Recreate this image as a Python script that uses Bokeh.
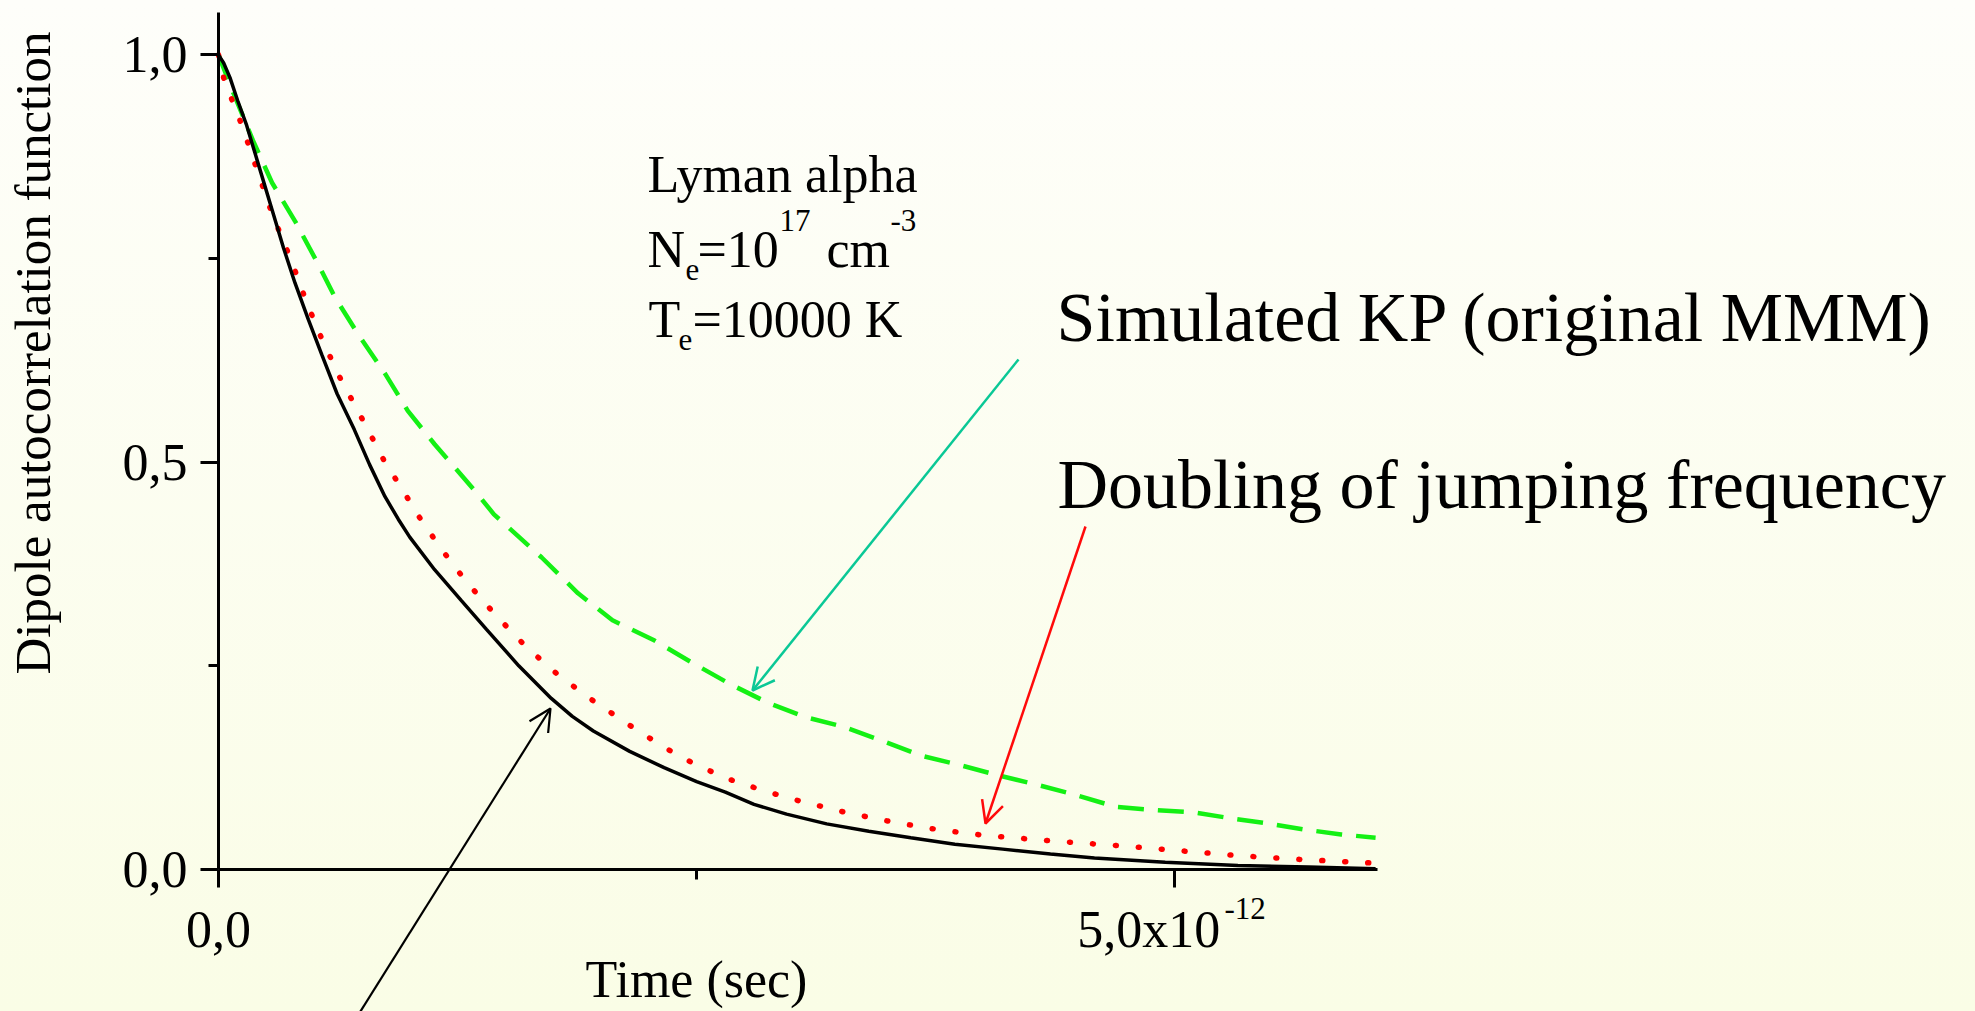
import math
from bokeh.plotting import figure
from bokeh.models import Range1d, FixedTicker, Label, Arrow, OpenHead
from bokeh.embed import file_html
from bokeh.resources import INLINE

# ---------------- data (time in picoseconds) ----------------
black_t = [0, 0.027, 0.06, 0.10, 0.145, 0.19, 0.235, 0.28, 0.34, 0.40, 0.47, 0.54, 0.62,
           0.71, 0.79, 0.87, 0.94, 1.0, 1.13, 1.27, 1.40, 1.57, 1.74, 1.85, 1.96, 2.15,
           2.33, 2.50, 2.65, 2.80, 2.97, 3.18, 3.40, 3.62, 3.85, 4.10, 4.35, 4.58, 4.95,
           5.33, 5.70, 6.05]
black_y = [1.0, 0.99, 0.972, 0.944, 0.915, 0.88, 0.845, 0.81, 0.763, 0.72, 0.675, 0.632,
           0.584, 0.54, 0.497, 0.458, 0.43, 0.408, 0.368, 0.33, 0.295, 0.25, 0.21, 0.188,
           0.17, 0.145, 0.125, 0.108, 0.095, 0.08, 0.068, 0.056, 0.047, 0.039, 0.031,
           0.025, 0.019, 0.014, 0.009, 0.005, 0.003, 0.001]

red_t = [0, 0.027, 0.07, 0.12, 0.20, 0.28, 0.38, 0.45, 0.52, 0.63, 0.77, 0.87, 0.96, 1.04,
         1.16, 1.29, 1.45, 1.61, 1.78, 1.96, 2.15, 2.33, 2.50, 2.68, 2.86, 3.04, 3.28,
         3.53, 3.76, 4.0, 4.36, 4.72, 5.03, 5.33, 5.68, 6.03]
red_y = [1.0, 0.972, 0.945, 0.915, 0.86, 0.805, 0.748, 0.703, 0.662, 0.606, 0.545, 0.50,
         0.467, 0.436, 0.395, 0.355, 0.312, 0.273, 0.238, 0.207, 0.177, 0.150, 0.128,
         0.110, 0.096, 0.084, 0.070, 0.058, 0.049, 0.042, 0.035, 0.029, 0.023, 0.017,
         0.012, 0.008]

green_t = [0, 0.073, 0.18, 0.28, 0.40, 0.51, 0.61, 0.73, 0.87, 0.99, 1.13, 1.34, 1.44, 1.69,
           1.88, 2.06, 2.28, 2.49, 2.68, 2.87, 3.07, 3.27, 3.47, 3.67, 3.88, 4.07, 4.28,
           4.49, 4.69, 4.89, 5.10, 5.29, 5.50, 5.68, 5.87, 6.05]
green_y = [1.0, 0.956, 0.895, 0.843, 0.796, 0.748, 0.702, 0.657, 0.609, 0.563, 0.522, 0.465,
           0.436, 0.383, 0.339, 0.306, 0.281, 0.252, 0.227, 0.205, 0.187, 0.175, 0.158,
           0.14, 0.128, 0.116, 0.104, 0.091, 0.077, 0.073, 0.070, 0.063, 0.056, 0.049,
           0.043, 0.039]

x_ticks = [0, 5]
x_minor = [2.5]
x_tick_labels = ["0,0", "5,0x10"]
x_tick_exponent = "-12"
y_ticks = [0, 0.5, 1.0]
y_minor = [0.25, 0.75]
y_tick_labels = ["0,0", "0,5", "1,0"]

# ---------------- layout ----------------
W, H = 1975, 1011
X_END, Y_END = 6.06, 1.052
# data box (axes) in canvas pixel coords
FX0, FX1, FY0, FY1 = 218, 1377, 12, 869
SX = (FX1 - FX0) / X_END
SY = (FY1 - FY0) / Y_END
DY = -23  # label baseline correction

FONT = "Liberation Serif"


def pos(fx, fy):
    """canvas-pixel position -> data coordinates (for annotations)."""
    return ((fx - FX0) / SX, (FY1 - fy) / SY)


p = figure(width=W, height=H, output_backend="svg", toolbar_location=None,
           x_range=Range1d(-FX0 / SX, (W - FX0) / SX),
           y_range=Range1d(-(H - FY1) / SY, FY1 / SY),
           min_border=0, min_border_left=0, min_border_right=0,
           min_border_top=0, min_border_bottom=0)

p.styles = {"background": "linear-gradient(to bottom, #FEFEFA, #FAFDE6)"}
p.border_fill_alpha = 0
p.background_fill_alpha = 0
p.outline_line_color = None
p.xgrid.visible = False
p.ygrid.visible = False

for ax in (p.xaxis[0], p.yaxis[0]):
    ax.fixed_location = 0
    ax.axis_line_width = 3
    ax.axis_line_color = "black"
    ax.major_tick_line_width = 3
    ax.minor_tick_line_width = 3
    ax.major_tick_out = 18
    ax.major_tick_in = 0
    ax.minor_tick_out = 10
    ax.minor_tick_in = 0
    ax.major_label_text_font = FONT
    ax.major_label_text_font_size = "52px"
    ax.major_label_text_color = "black"

p.xaxis.bounds = (0, X_END)
p.yaxis.bounds = (0, Y_END)
p.xaxis.ticker = FixedTicker(ticks=x_ticks, minor_ticks=x_minor)
p.xaxis.major_label_overrides = {x_ticks[0]: x_tick_labels[0],
                                 x_ticks[1]: x_tick_labels[1] + "\u00a0\u00a0\u00a0\u00a0"}
p.xaxis.major_label_standoff = 13
p.yaxis.ticker = FixedTicker(ticks=y_ticks, minor_ticks=y_minor)
p.yaxis.major_label_overrides = {t: s for t, s in zip(y_ticks, y_tick_labels)}
p.yaxis.major_label_standoff = 13

# ---------------- curves ----------------
p.line(green_t, green_y, line_color="#14F014", line_width=4.5, line_dash="26 14")
p.line(red_t, red_y, line_color="#FF0000", line_width=5.5, line_dash="1 22", line_cap="round")
p.line(black_t, black_y, line_color="black", line_width=3.5)


# ---------------- texts ----------------
def label(fx, fy, text, size, **kw):
    x, y = pos(fx, fy + DY)
    p.add_layout(Label(x=x, y=y, text=text, text_font=FONT, text_font_size=f"{size}px",
                       text_color="black", text_align="left", text_baseline="alphabetic", **kw))


label(1224, 931, x_tick_exponent, 31)

label(647, 197, "Lyman alpha", 52)
label(647, 272, "N", 52)
label(685, 292, "e", 31)
label(697, 272, "=10", 52)
label(779, 243, "17", 31)
label(826, 272, "cm", 52)
label(890, 243, "-3", 31)
label(648, 342, "T", 52)
label(678, 362, "e", 31)
label(692, 342, "=10000 K", 52)

label(1056, 340, "Simulated KP (original MMM)", 70)
label(1057, 507, "Doubling of jumping frequency", 70)

label(585, 1002, "Time (sec)", 52)

# rotated axis title: baseline correction applies along x
yx, yy = pos(32, 674)
p.add_layout(Label(x=yx, y=yy, text="Dipole autocorrelation function", text_font=FONT,
                   text_font_size="51px", text_color="black", text_align="left",
                   text_baseline="alphabetic", angle=math.pi / 2))


# ---------------- arrows ----------------
def arrow(f0, f1, color, width=2, size=22):
    x0, y0 = pos(*f0)
    x1, y1 = pos(*f1)
    p.add_layout(Arrow(x_start=x0, y_start=y0, x_end=x1, y_end=y1,
                       line_color=color, line_width=width,
                       end=OpenHead(size=size, line_color=color, line_width=width)))


arrow((1018, 359), (752, 690), "#0AC896", 2.5)
arrow((1085, 526), (985, 823), "#FF0A0A", 2.5)
arrow((358, 1014), (550, 708), "black", 2.2)

open("out.html", "w").write(file_html(p, INLINE))
